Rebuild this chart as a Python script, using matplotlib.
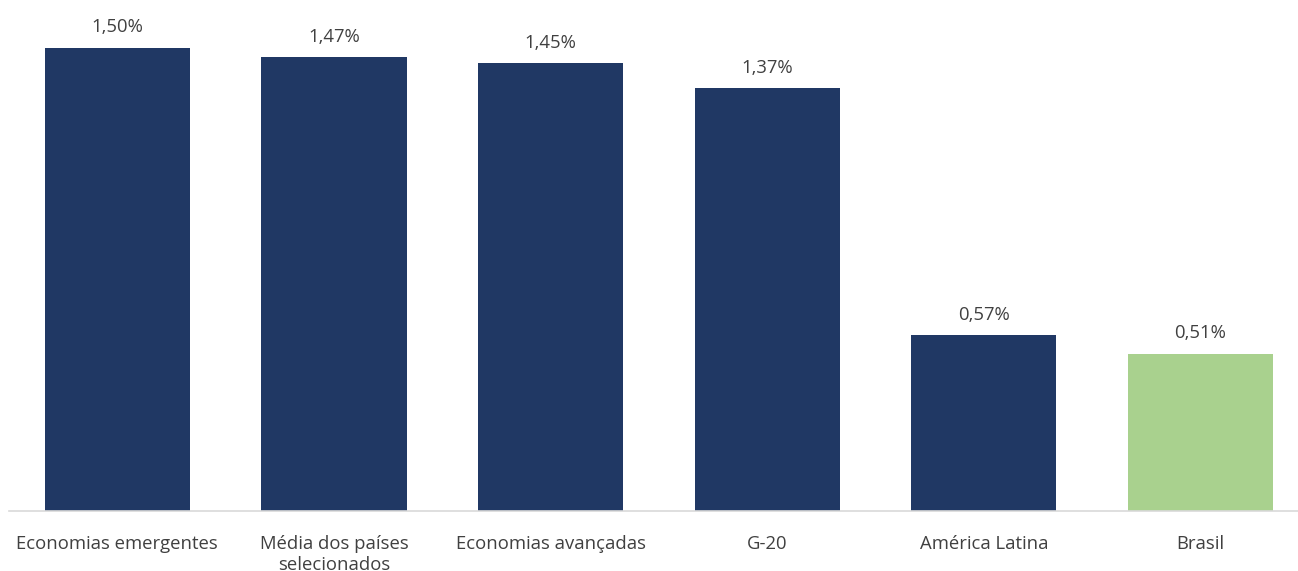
import matplotlib.pyplot as plt

plt.rcParams['font.family'] = ['Open Sans', 'DejaVu Sans']

categorias = ['Economias emergentes', 'Média dos países\nselecionados', 'Economias avançadas',
              'G-20', 'América Latina', 'Brasil']
valores = [1.50, 1.47, 1.45, 1.37, 0.57, 0.51]
cores = ['#203864', '#203864', '#203864', '#203864', '#203864', '#A9D18E']

fig = plt.figure(figsize=(12.98, 5.71), dpi=100)
ax = fig.add_axes([9 / 1298, 1 - 511 / 571, 1289 / 1298, 511 / 571])

x = range(len(categorias))
ax.bar(x, valores, width=0.67, color=cores)

for i, v in zip(x, valores):
    ax.text(i, v + 0.037, f'{v:.2f}%'.replace('.', ','), ha='center', va='bottom',
            fontsize=13.3, color='#404040')

ax.set_xlim(-0.5, 5.45)
ax.set_ylim(0, 1.655)
ax.set_xticks(list(x))
ax.set_xticklabels(categorias, fontsize=13.3, color='#404040', va='top', linespacing=1.25)
ax.tick_params(axis='x', length=0, pad=17)
ax.set_yticks([])
for s in ['top', 'right', 'left']:
    ax.spines[s].set_visible(False)
ax.spines['bottom'].set_color('#D9D9D9')
ax.spines['bottom'].set_linewidth(1.2)

fig.savefig('out.png', dpi=100)
